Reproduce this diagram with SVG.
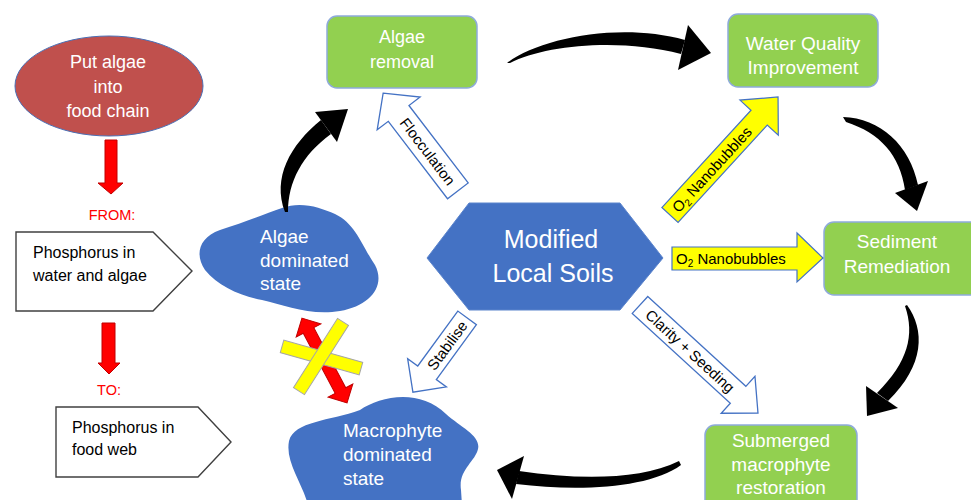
<svg xmlns="http://www.w3.org/2000/svg" width="971" height="500" viewBox="0 0 971 500">
<style>
text{font-family:"Liberation Sans",Arial,sans-serif}
.wt{fill:#ffffff}
.gbox{fill:#92d050;stroke:#8eaadb;stroke-width:1.5}
.blob{fill:#4472c4}
.open{fill:#ffffff;stroke:#4472c4;stroke-width:1.3}
.yel{fill:#ffff00;stroke:#4472c4;stroke-width:1.2}
.red{fill:#ff0000;stroke:#c00000;stroke-width:1}
.blk{fill:#000000}
.pent{fill:#ffffff;stroke:#404040;stroke-width:1.4}
.lbl{fill:#000000;font-size:15px}
</style>

<g id="node-food-chain">
<ellipse cx="109" cy="86" rx="94" ry="50" fill="#c0504d" stroke="#4a6fb5" stroke-width="1"/>
<text class="wt" x="108" y="68" font-size="18" text-anchor="middle" fill="#f2f2f2">Put algae</text>
<text class="wt" x="108" y="93" font-size="18" text-anchor="middle">into</text>
<text class="wt" x="108" y="117" font-size="18" text-anchor="middle">food chain</text>
</g>

<g id="node-from">
<text x="112" y="220" font-size="14.5" fill="#ff0000" text-anchor="middle">FROM:</text>
</g>

<g id="node-p-water">
<polygon class="pent" points="16,232 153,232 192,271 153,311 16,311"/>
<text x="33" y="258" font-size="16" fill="#000">Phosphorus in</text>
<text x="33" y="281" font-size="16" fill="#000">water and algae</text>
</g>

<g id="node-to">
<text x="109" y="395" font-size="14.5" fill="#ff0000" text-anchor="middle">TO:</text>
</g>

<g id="node-p-foodweb">
<polygon class="pent" points="56,407 198,407 231,442 198,477 56,477"/>
<text x="72" y="433" font-size="16" fill="#000">Phosphorus in</text>
<text x="72" y="455" font-size="16" fill="#000">food web</text>
</g>

<g id="node-algae-removal">
<rect class="gbox" x="327" y="16" width="150" height="72" rx="10"/>
<text class="wt" x="402" y="43" font-size="18" text-anchor="middle">Algae</text>
<text class="wt" x="402" y="68" font-size="18" text-anchor="middle">removal</text>
</g>

<g id="node-water-quality">
<rect class="gbox" x="728" y="14" width="150" height="73" rx="10"/>
<text class="wt" x="803" y="50" font-size="19" text-anchor="middle">Water Quality</text>
<text class="wt" x="803" y="74" font-size="19" text-anchor="middle">Improvement</text>
</g>

<g id="node-sediment">
<rect class="gbox" x="824" y="222" width="160" height="73" rx="10"/>
<text class="wt" x="897" y="248" font-size="19" text-anchor="middle">Sediment</text>
<text class="wt" x="897" y="273" font-size="19" text-anchor="middle">Remediation</text>
</g>

<g id="node-submerged">
<rect class="gbox" x="705" y="425" width="152" height="90" rx="10"/>
<text class="wt" x="781" y="447" font-size="19" text-anchor="middle">Submerged</text>
<text class="wt" x="781" y="471" font-size="19" text-anchor="middle">macrophyte</text>
<text class="wt" x="781" y="494" font-size="19" text-anchor="middle">restoration</text>
</g>

<g id="node-soils">
<polygon fill="#4472c4" stroke="#5b84cc" stroke-width="1" points="427,258 469,203 620,203 663,258 620,310 469,310"/>
<text class="wt" x="551" y="248" font-size="25" text-anchor="middle">Modified</text>
<text class="wt" x="553" y="282" font-size="25" text-anchor="middle">Local Soils</text>
</g>

<g id="node-algae-state">
<path class="blob" d="M 282 208 C 300 201, 320 207, 335 214 C 356 224, 362 246, 375 265 C 386 286, 370 306, 340 311 C 310 316, 285 305, 262 300 C 240 296, 218 286, 205 270 C 195 255, 198 238, 220 230 C 245 222, 265 214, 282 208 Z"/>
<text class="wt" x="260" y="243" font-size="19">Algae</text>
<text class="wt" x="260" y="267" font-size="19">dominated</text>
<text class="wt" x="260" y="290" font-size="19">state</text>
</g>

<g id="node-macrophyte-state">
<path class="blob" d="M 360 410 C 380 396, 420 388, 446 414 C 462 428, 481 436, 478 449 C 475 462, 458 470, 461 490 L 462 505 L 308 505 C 302 482, 285 462, 289 441 C 294 421, 330 421, 360 410 Z"/>
<text class="wt" x="343" y="437" font-size="19">Macrophyte</text>
<text class="wt" x="343" y="461" font-size="19">dominated</text>
<text class="wt" x="343" y="485" font-size="19">state</text>
</g>

<g id="connectors">
<!-- red down arrows -->
<polygon class="red" points="105,140 117,140 117,183 123,183 111,194 98,183 105,183"/>
<polygon class="red" points="102,323 115,323 115,363 120,363 109,374 98,363 102,363"/>

<!-- black curved arrows -->
<path class="blk" d="M 285 212 C 272 178, 290 145, 321 120 L 331 134 C 302 155, 288 182, 288 212 Z"/>
<polygon class="blk" points="315,112 348,109 337,142"/>

<path class="blk" d="M 507 63 C 540 38, 620 22, 685 40 L 681 54 C 620 38, 545 45, 510 63 Z"/>
<polygon class="blk" points="688,25 711,53 678,70"/>

<path class="blk" d="M 843 117 C 880 118, 910 145, 918 185 L 905 190 C 900 155, 880 133, 846 122 Z"/>
<polygon class="blk" points="895,193 928,181 917,211"/>

<path class="blk" d="M 907 305 C 925 330, 925 365, 888 401 L 877 393 C 908 362, 915 335, 905 306 Z"/>
<polygon class="blk" points="866,386 898,408 867,416"/>

<path class="blk" d="M 679 461 C 640 480, 580 480, 519 471 L 516 484 C 580 492, 650 488, 681 465 Z"/>
<polygon class="blk" points="524,456 512,499 497,470"/>

<!-- Flocculation open arrow -->
<g transform="translate(420.5,142) rotate(52.6)">
<polygon class="open" points="-61.5,0 -36,-27 -36,-13 61.5,-13 61.5,13 -36,13 -36,27"/>
<text class="lbl" x="12" y="5.5" text-anchor="middle" font-size="15.5">Flocculation</text>
</g>

<!-- Stabilise open arrow -->
<g transform="translate(440,355) rotate(-53.9)">
<polygon class="open" points="-46,0 -22,-24 -22,-11.5 46,-11.5 46,11.5 -22,11.5 -22,24"/>
<text class="lbl" x="12" y="5.5" text-anchor="middle" font-size="15">Stabilise</text>
</g>

<!-- Clarity + Seeding open arrow -->
<g transform="translate(699,359) rotate(42.5)">
<polygon class="open" points="-80,-11.5 53,-11.5 53,-25 80,0 53,25 53,11.5 -80,11.5"/>
<text class="lbl" x="-12" y="5.5" text-anchor="middle" font-size="15">Clarity + Seeding</text>
</g>

<!-- O2 diagonal yellow arrow -->
<g transform="translate(724,156) rotate(-47.5)">
<polygon class="yel" points="-80,-11 52,-11 52,-26 80,0 52,26 52,11 -80,11"/>
<text class="lbl" x="-73" y="5.5" font-size="15">O<tspan font-size="10" dy="3">2</tspan><tspan dy="-3"> Nanobubbles</tspan></text>
</g>

<!-- O2 horizontal yellow arrow -->
<polygon class="yel" points="672,247 797,247 797,233 823,258 797,282 797,270 672,270"/>
<text class="lbl" x="676" y="264" font-size="15">O<tspan font-size="10" dy="3">2</tspan><tspan dy="-3"> Nanobubbles</tspan></text>

<!-- blocked transition: red double arrow with yellow cross -->
<g transform="translate(324.5,360.5) rotate(62)">
<polygon class="red" points="-48,0 -34,-14 -34,-6 34,-6 34,-14 48,0 34,14 34,6 -34,6 -34,14"/>
</g>
<g fill="#ffff00" stroke="#a6a6a6" stroke-width="1">
<g transform="translate(321.5,357.5) rotate(15.7)"><rect x="-41" y="-6.5" width="82" height="13"/></g>
<g transform="translate(321,356.5) rotate(-57.5)"><rect x="-41" y="-6.5" width="82" height="13"/></g>
</g>
</g>
</svg>
